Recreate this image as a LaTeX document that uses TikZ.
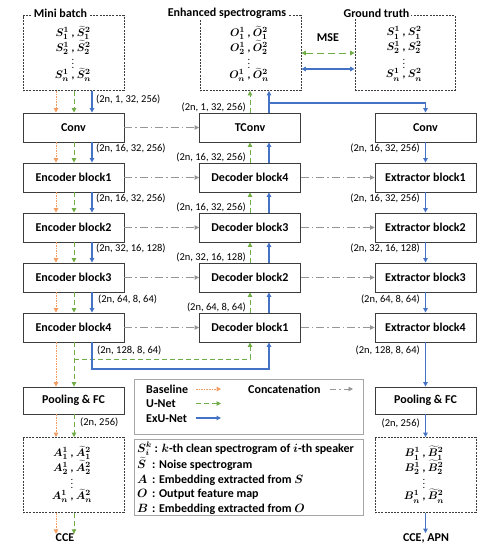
\documentclass[tikz,border=0pt]{standalone}
\usepackage{fontspec}
\setmainfont{Carlito}
\usetikzlibrary{arrows.meta,shadows,calc}
\definecolor{cOr}{RGB}{244,156,96}
\definecolor{cGr}{RGB}{112,173,71}
\definecolor{cBl}{RGB}{68,114,196}
\definecolor{cGy}{RGB}{150,150,150}
\definecolor{cBd}{RGB}{60,60,60}
\tikzset{
  >={Triangle[length=4.5pt,width=4.5pt]},
  blk/.style={draw=cBd, line width=0.9pt, fill=white, minimum width=101pt, minimum height=29pt, inner sep=0pt, font=\bfseries\fontsize{12}{14}\selectfont},
  dbox/.style={draw=cBd, line width=0.8pt, dash pattern=on 2pt off 1.2pt, minimum width=101pt, minimum height=75pt, inner sep=0pt},
  ttl/.style={fill=white, inner sep=2pt, font=\bfseries\fontsize{12}{14}\selectfont},
  dim/.style={font=\fontsize{10.5}{12}\selectfont, inner sep=0pt},
  ent/.style={font=\bfseries\boldmath\fontsize{11}{13}\selectfont, inner sep=0pt},
  vd/.style={font=\bfseries\fontsize{8}{9}\selectfont, inner sep=0pt},
  lbl/.style={font=\bfseries\fontsize{12}{14}\selectfont, inner sep=0pt},
  legtxt/.style={font=\bfseries\boldmath\fontsize{12}{14}\selectfont, inner sep=0pt, anchor=base west},
  legbox/.style={draw=gray!70, line width=1pt, fill=white, minimum width=229pt, inner sep=0pt, drop shadow={shadow xshift=1.2pt, shadow yshift=-1.2pt, fill=gray!45}},
  orA/.style={draw=cOr, line width=1pt, dash pattern=on 1.6pt off 1pt, ->, cOr},
  grA/.style={draw=cGr, line width=1pt, dash pattern=on 5pt off 3pt, ->, cGr},
  blA/.style={draw=cBl, line width=1.2pt, ->, cBl},
  catA/.style={draw=cGy, line width=0.9pt, dash pattern=on 8pt off 3pt on 1.5pt off 3pt, ->, cGy},
}
\begin{document}
\begin{tikzpicture}[x=1pt,y=-1pt]
\useasboundingbox (0,0) rectangle (492,560);
% x positions of connector lanes
\coordinate (xo) at (56,0);
\coordinate (xg) at (74,0);
\coordinate (xb) at (92,0);
\coordinate (mg) at (250,0);
\coordinate (mbx) at (269,0);
\coordinate (rx) at (425.5,0);
\coordinate (br) at (0,103);
\coordinate (gl) at (0,359);
\coordinate (bl) at (0,369);
\coordinate (m1) at (0,53);
\coordinate (m2) at (0,69);

% top dashed boxes
\node[dbox] (minib) at (73.5,53) {};
\node[dbox] (enh) at (250.5,53) {};
\node[dbox, minimum width=100pt] (gt) at (405,53) {};
\node[ttl] (tmb) at (60.5,13) {Mini batch};
\node[ttl] (tenh) at (227,13) {Enhanced spectrograms};
\node[ttl] (tgt) at (376.5,13) {Ground truth};

\node[ent] (mb1) at (73,33) {$S_1^1$ , $\widetilde{S}_1^2$};
\node[ent] (mb2) at (73,47.5) {$S_2^1$ , $\widetilde{S}_2^2$};
\node[vd]  (mb3) at (73,61) {$\vdots$};
\node[ent] (mb4) at (73,75) {$S_n^1$ , $\widetilde{S}_n^2$};

\node[ent] (en1) at (249,33) {$O_1^1$ , $\widetilde{O}_1^2$};
\node[ent] (en2) at (249,47.5) {$O_2^1$ , $\widetilde{O}_2^2$};
\node[vd]  (en3) at (249,61) {$\vdots$};
\node[ent] (en4) at (249,75) {$O_n^1$ , $\widetilde{O}_n^2$};

\node[ent] (gt1) at (404,33) {$S_1^1$ , $S_1^2$};
\node[ent] (gt2) at (404,47.5) {$S_2^1$ , $S_2^2$};
\node[vd]  (gt3) at (404,61) {$\vdots$};
\node[ent] (gt4) at (404,75) {$S_n^1$ , $S_n^2$};

\node[lbl] (mse) at (328,38) {MSE};

% left column
\node[blk] (conv) at (73.5,127.5) {Conv};
\node[blk] (enc1) at (73.5,177.5) {Encoder block1};
\node[blk] (enc2) at (73.5,227.5) {Encoder block2};
\node[blk] (enc3) at (73.5,277.5) {Encoder block3};
\node[blk] (enc4) at (73.5,327.5) {Encoder block4};
\node[blk, minimum height=27pt] (pool) at (73.5,400.5) {Pooling \& FC};
\node[dbox] (abox) at (73.5,475) {};
\node[ent] (a1) at (72,453) {$A_1^1$ , $\widetilde{A}_1^2$};
\node[ent] (a2) at (72,467.5) {$A_2^1$ , $\widetilde{A}_2^2$};
\node[vd]  (a3) at (72,481) {$\vdots$};
\node[ent] (a4) at (72,496) {$A_n^1$ , $\widetilde{A}_n^2$};
\node[lbl] (cce) at (65,538) {CCE};

% middle column
\node[blk] (tconv) at (250,127.5) {TConv};
\node[blk] (dec4) at (250,177.5) {Decoder block4};
\node[blk] (dec3) at (250,227.5) {Decoder block3};
\node[blk] (dec2) at (250,277.5) {Decoder block2};
\node[blk] (dec1) at (250,327.5) {Decoder block1};

% right column
\node[blk] (rconv) at (425.5,127.5) {Conv};
\node[blk] (ext1) at (425.5,177.5) {Extractor block1};
\node[blk] (ext2) at (425.5,227.5) {Extractor block2};
\node[blk] (ext3) at (425.5,277.5) {Extractor block3};
\node[blk] (ext4) at (425.5,327.5) {Extractor block4};
\node[blk, minimum height=27pt] (rpool) at (425.5,400.5) {Pooling \& FC};
\node[dbox] (bbox) at (425.5,475) {};
\node[ent] (b1) at (424,453) {$B_1^1$ , $\widetilde{B}_1^2$};
\node[ent] (b2) at (424,467.5) {$B_2^1$ , $\widetilde{B}_2^2$};
\node[vd]  (b3) at (424,481) {$\vdots$};
\node[ent] (b4) at (424,496) {$B_n^1$ , $\widetilde{B}_n^2$};
\node[lbl] (cce2) at (426,538) {CCE, APN};

% dimension labels
\node[dim, anchor=west] (dl0) at (96,99) {(2n, 1, 32, 256)};
\node[dim, anchor=west] (dl1) at (96,148) {(2n, 16, 32, 256)};
\node[dim, anchor=west] (dl2) at (96,198) {(2n, 16, 32, 256)};
\node[dim, anchor=west] (dl3) at (96,248) {(2n, 32, 16, 128)};
\node[dim, anchor=west] (dl4) at (98,299) {(2n, 64, 8, 64)};
\node[dim, anchor=west] (dl5) at (97,350) {(2n, 128, 8, 64)};
\node[dim, anchor=west] (dl6) at (80,422) {(2n, 256)};

\node[dim, anchor=east] (dm0) at (246,107) {(2n, 1, 32, 256)};
\node[dim, anchor=east] (dm1) at (246,157) {(2n, 16, 32, 256)};
\node[dim, anchor=east] (dm2) at (246,207) {(2n, 16, 32, 256)};
\node[dim, anchor=east] (dm3) at (246,257) {(2n, 32, 16, 128)};
\node[dim, anchor=east] (dm4) at (246,307) {(2n, 64, 8, 64)};

\node[dim, anchor=east] (dr1) at (420,148) {(2n, 16, 32, 256)};
\node[dim, anchor=east] (dr2) at (420,198) {(2n, 16, 32, 256)};
\node[dim, anchor=east] (dr3) at (420,248) {(2n, 32, 16, 128)};
\node[dim, anchor=east] (dr4) at (420,299) {(2n, 64, 8, 64)};
\node[dim, anchor=east] (dr5) at (420,350) {(2n, 128, 8, 64)};
\node[dim, anchor=east] (dr6) at (420,423) {(2n, 256)};

% left downward arrows
\foreach \a/\b in {minib/conv,conv/enc1,enc1/enc2,enc2/enc3,enc3/enc4} {
  \draw[orA] (\a.south -| xo) -- (\b.north -| xo);
  \draw[grA] (\a.south -| xg) -- (\b.north -| xg);
  \draw[blA] (\a.south -| xb) -- (\b.north -| xb);
}
\foreach \a/\b in {enc4/pool,pool/abox} {
  \draw[orA] (\a.south -| xo) -- (\b.north -| xo);
  \draw[grA] (\a.south -| xg) -- (\b.north -| xg);
}
\draw[orA] (abox.south -| xo) -- (cce.north -| xo);
\draw[grA] (abox.south -| xg) -- (cce.north -| xg);

% skip to decoder block1
\draw[grA] (xg |- gl) -- (mg |- gl) -- (dec1.south -| mg);
\draw[blA] (enc4.south -| xb) -- (xb |- bl) -- (mbx |- bl) -- (dec1.south -| mbx);

% middle upward arrows
\foreach \a/\b in {dec1/dec2,dec2/dec3,dec3/dec4,dec4/tconv,tconv/enh} {
  \draw[grA] (\a.north -| mg) -- (\b.south -| mg);
  \draw[blA] (\a.north -| mbx) -- (\b.south -| mbx);
}
\draw[blA] (mbx |- br) -| (rconv.north);

% right downward arrows
\foreach \a/\b in {rconv/ext1,ext1/ext2,ext2/ext3,ext3/ext4,ext4/rpool,rpool/bbox} {
  \draw[blA] (\a.south -| rx) -- (\b.north -| rx);
}
\draw[blA] (bbox.south -| rx) -- (cce2.north -| rx);

% concatenation
\foreach \a/\b in {conv/tconv,enc1/dec4,enc2/dec3,enc3/dec2,enc4/dec1,dec4/ext1,dec3/ext2,dec2/ext3,dec1/ext4} {
  \draw[catA] (\a.east) -- (\b.west);
}

% MSE
\draw[grA, dash pattern=on 7pt off 4pt, <->] (enh.east |- m1) -- (gt.west |- m1);
\draw[blA, <->] (enh.east |- m2) -- (gt.west |- m2);

% legend 1
\node[legbox, minimum height=55pt] (leg1) at (248.5,406.5) {};
\node[legtxt] (lb) at (146,393) {Baseline};
\node[legtxt] (lu) at (146,407.5) {U-Net};
\node[legtxt] (le) at (146,422) {ExU-Net};
\node[legtxt] (lc) at (248,393) {Concatenation};
\coordinate (lo1) at (196,389); \coordinate (lo2) at (221,389);
\coordinate (lg1) at (196,403.5); \coordinate (lg2) at (221,403.5);
\coordinate (lb1) at (196,418); \coordinate (lb2) at (221,418);
\coordinate (lc1) at (330,389); \coordinate (lc2) at (353,389);
\draw[orA] (lo1) -- (lo2);
\draw[grA] (lg1) -- (lg2);
\draw[blA] (lb1) -- (lb2);
\draw[catA, dash pattern=on 6pt off 3pt on 1.5pt off 3pt] (lc1) -- (lc2);

% legend 2
\node[legbox, minimum height=76pt] (leg2) at (248.5,477) {};
\node[legtxt] (n1) at (137,452) {$S_i^k$ : $k$-th clean spectrogram of $i$-th speaker};
\node[legtxt] (n2) at (137,468) {\makebox[15pt][l]{$\widetilde{S}$}: Noise spectrogram};
\node[legtxt] (n3) at (137,483) {\makebox[15pt][l]{$A$}: Embedding extracted from $S$};
\node[legtxt] (n4) at (137,497) {\makebox[15pt][l]{$O$}: Output feature map};
\node[legtxt] (n5) at (137,512) {\makebox[15pt][l]{$B$}: Embedding extracted from $O$};
\end{tikzpicture}
\end{document}
